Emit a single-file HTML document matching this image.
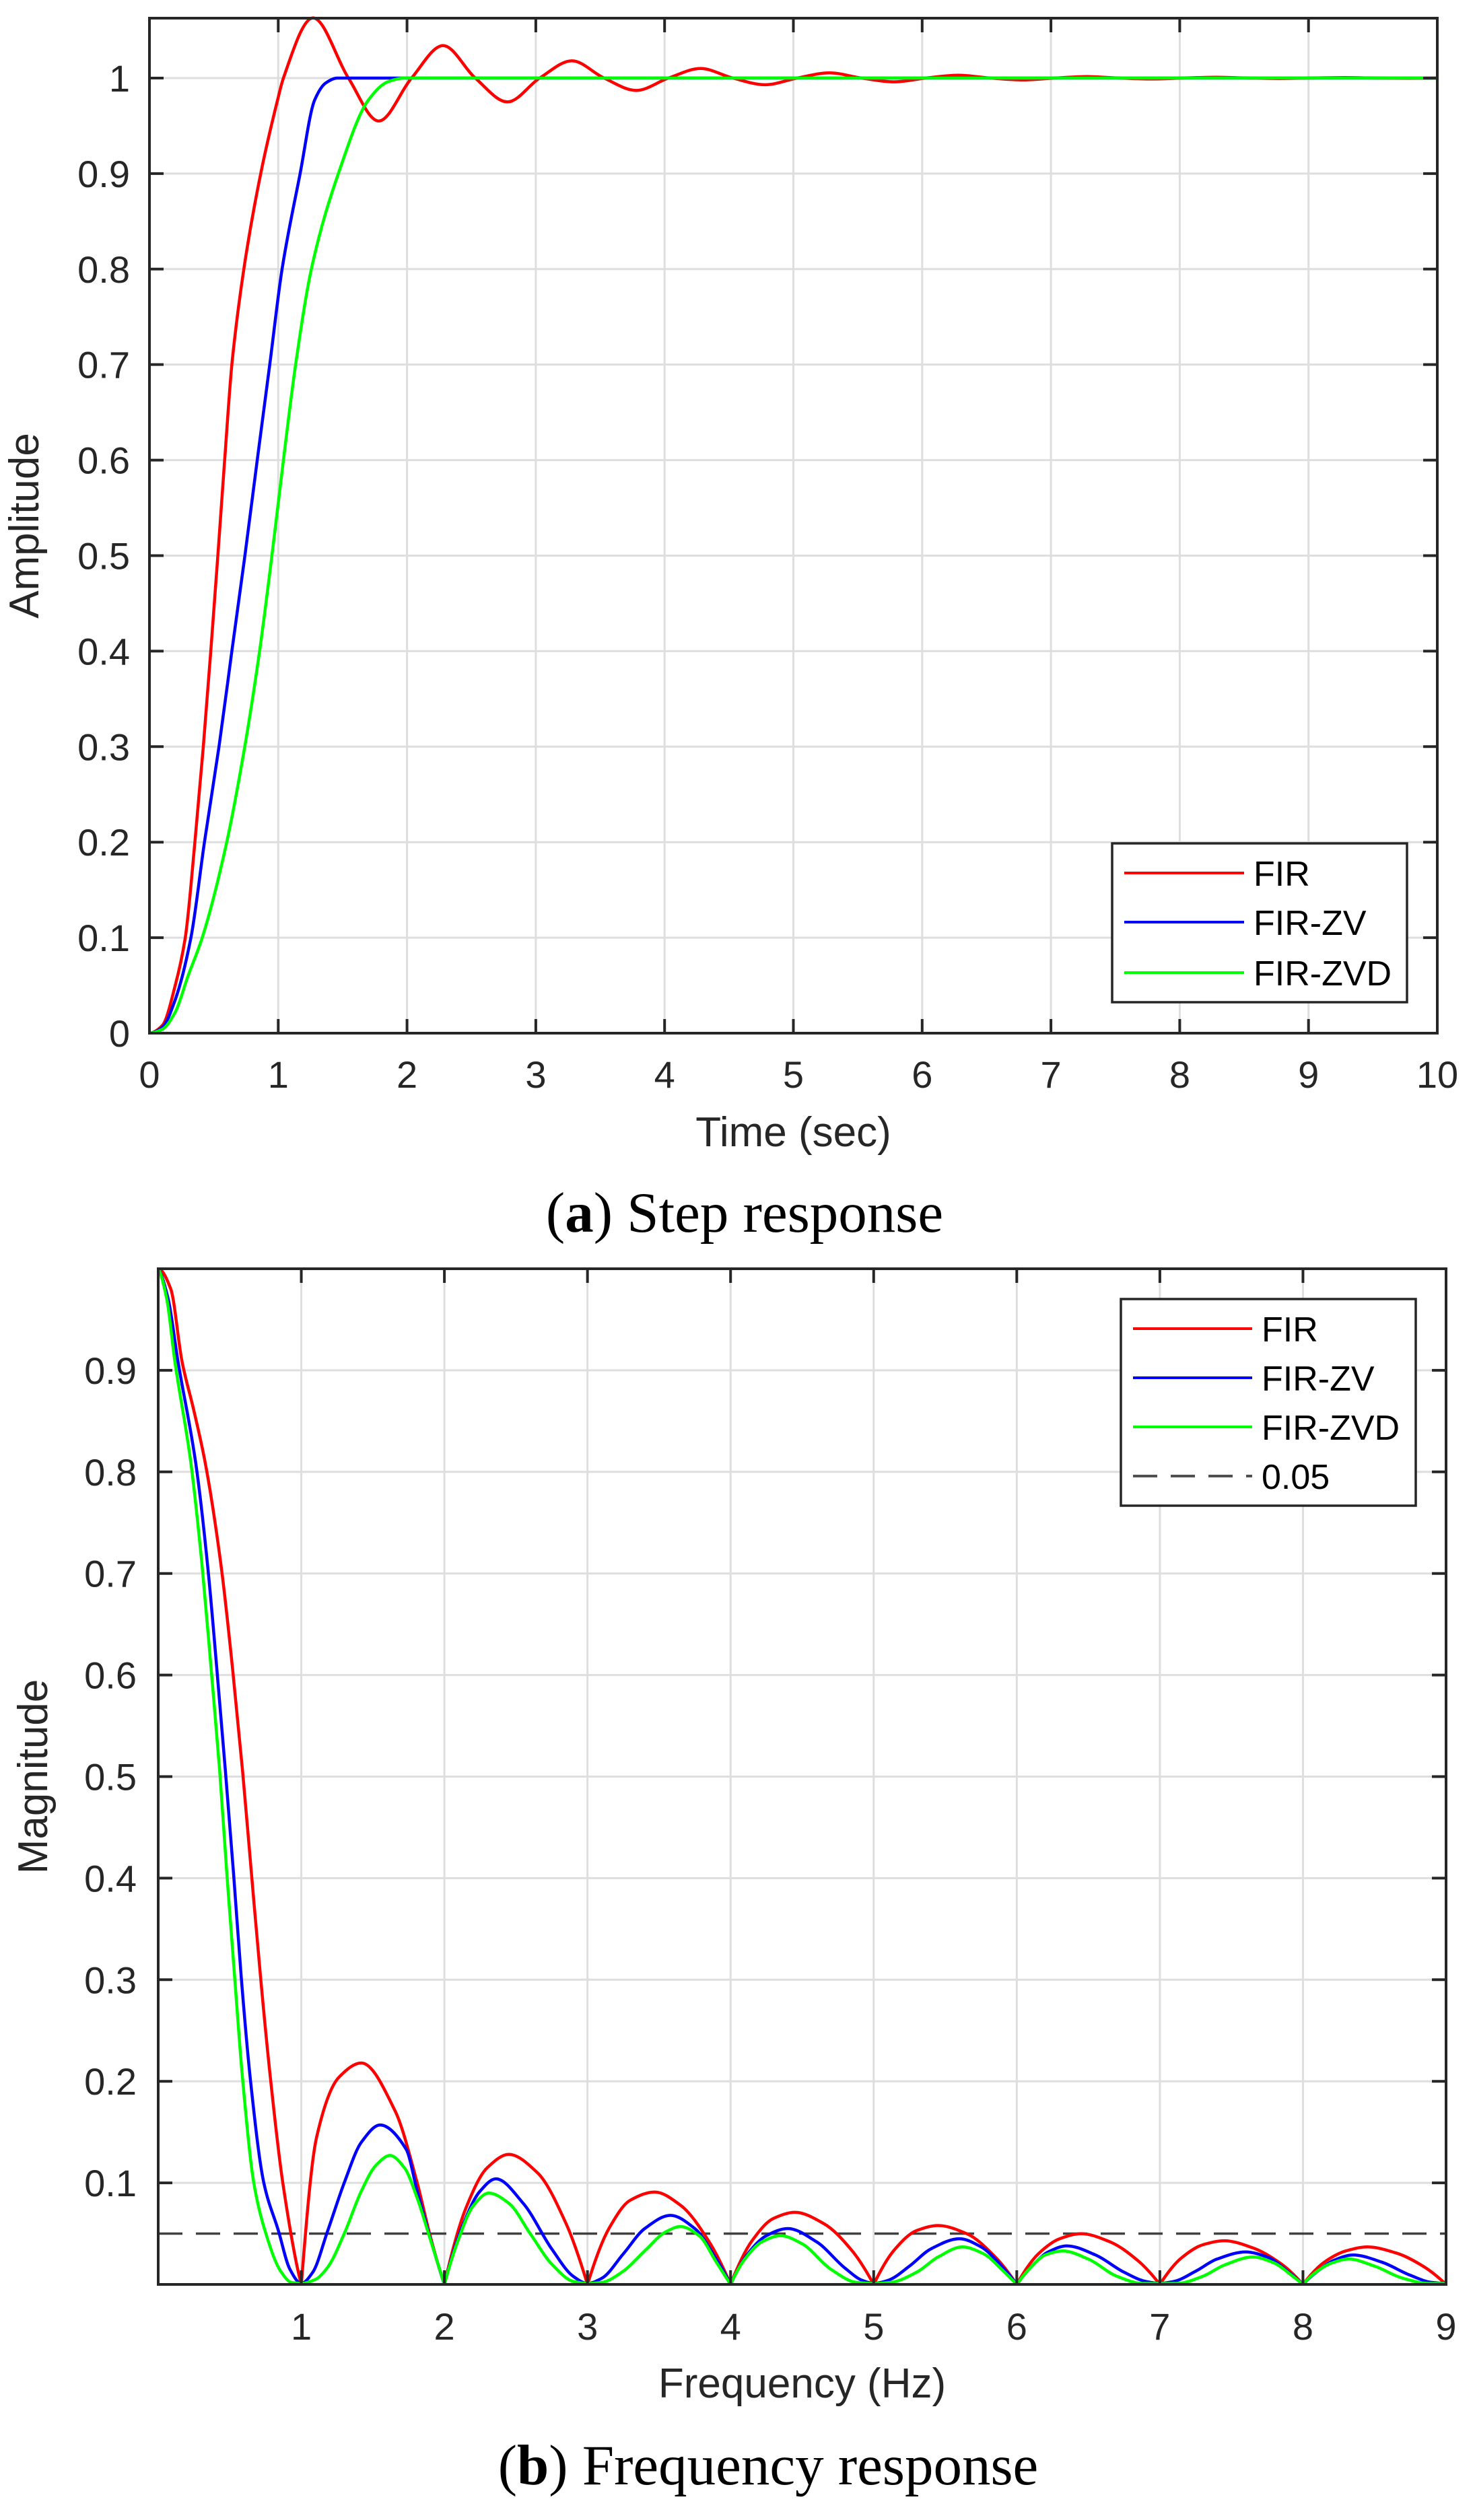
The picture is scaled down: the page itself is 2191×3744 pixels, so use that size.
<!DOCTYPE html>
<html><head><meta charset="utf-8"><style>
html,body{margin:0;padding:0;background:#fff;}
svg{display:block;}
text{font-family:"Liberation Sans",Arial,sans-serif;}
</style></head>
<body>
<svg id="fig" width="2191" height="3744" viewBox="0 0 2191 3744" xmlns="http://www.w3.org/2000/svg">
<rect width="2191" height="3744" fill="#fff"/>
<g id="plotA"></g>
<g id="plotB"></g>
<text x="1106" y="1830" text-anchor="middle" font-size="85" style="font-family:'Liberation Serif',serif" fill="#000">(<tspan font-weight="bold">a</tspan>) Step response</text>
<text x="1141" y="3691" text-anchor="middle" font-size="85" style="font-family:'Liberation Serif',serif" fill="#000">(<tspan font-weight="bold">b</tspan>) Frequency response</text>
</svg>
<script>
// ---- Step response data (a) ----
const stepXTicks = [0,1,2,3,4,5,6,7,8,9,10];
const stepYTicks = [0,0.1,0.2,0.3,0.4,0.5,0.6,0.7,0.8,0.9,1];
const stepYTickLabels = ["0","0.1","0.2","0.3","0.4","0.5","0.6","0.7","0.8","0.9","1"];
const firT = [0,0.1,0.2,0.278,0.353,0.418,0.476,0.531,0.584,0.64,0.733,0.864,0.995,1.04,1.27,1.545,1.78,2.035,2.28,2.53,2.78,3.03,3.28,3.53,3.78,4.03,4.28,4.53,4.78,5.03,5.28,5.53,5.78,6.03,6.28,6.53,6.78,7.03,7.28,7.53,7.78,8.03,8.28,8.53,8.78,9.03,9.28,9.53,9.78,10];
const firV = [0,0.008,0.05,0.1,0.2,0.3,0.4,0.5,0.6,0.7,0.8,0.9,0.977,1.0,1.063,1.0,0.955,1.0,1.034,1.0,0.975,1.0,1.018,1.0,0.987,1.0,1.010,1.0,0.993,1.0,1.0055,1.0,0.996,1.0,1.003,1.0,0.998,1.0,1.0016,1.0,0.999,1.0,1.0009,1.0,0.9995,1.0,1.0005,1.0,0.9997,1.0];
const zvT = [0,0.1,0.2,0.322,0.427,0.54,0.64,0.741,0.837,0.934,1.03,1.17,1.283,1.37,1.458,1.6,10];
const zvV = [0,0.006,0.035,0.1,0.2,0.3,0.4,0.5,0.6,0.7,0.8,0.9,0.977,0.995,1.0,1.0,1.0];
const zvdT = [0,0.1,0.2,0.3,0.41,0.6,0.74,0.855,0.951,1.04,1.135,1.257,1.467,1.70,1.85,1.98,2.2,10];
const zvdV = [0,0.004,0.022,0.06,0.1,0.2,0.3,0.4,0.5,0.6,0.7,0.8,0.9,0.977,0.996,1.0,1.0,1.0];

// ---- Frequency response data (b) ----
const freqXTicks = [1,2,3,4,5,6,7,8,9];
const freqYTicks = [0.1,0.2,0.3,0.4,0.5,0.6,0.7,0.8,0.9];
const freqYTickLabels = ["0.1","0.2","0.3","0.4","0.5","0.6","0.7","0.8","0.9"];
const thresholdValue = 0.05;
const firF = [0,0.088,0.166,0.25,0.33,0.44,0.52,0.59,0.652,0.715,0.785,0.871,1,
 1.107,1.263,1.42,1.655,1.81,1.9,2,
 2.15,2.3,2.45,2.65,2.85,3,
 3.15,3.3,3.47,3.65,3.85,4,
 4.15,4.3,4.45,4.65,4.85,5,
 5.15,5.3,5.45,5.65,5.85,6,
 6.15,6.3,6.45,6.65,6.85,7,
 7.15,7.3,7.45,7.65,7.85,8,
 8.15,8.3,8.45,8.65,8.85,9];
const firM = [1,0.98,0.909,0.86,0.808,0.707,0.606,0.505,0.404,0.303,0.202,0.1,0,
 0.145,0.204,0.218,0.171,0.1,0.048,0,
 0.075,0.115,0.128,0.11,0.06,0,
 0.055,0.083,0.091,0.078,0.042,0,
 0.043,0.065,0.071,0.06,0.033,0,
 0.035,0.053,0.058,0.05,0.027,0,
 0.03,0.045,0.05,0.042,0.023,0,
 0.026,0.039,0.043,0.036,0.02,0,
 0.022,0.033,0.037,0.031,0.017,0];
const zvF = [0,0.07,0.138,0.263,0.346,0.41,0.47,0.527,0.58,0.644,0.738,0.84,0.92,1,
 1.08,1.185,1.3,1.42,1.55,1.733,1.81,1.9,2,
 2.12,2.25,2.36,2.55,2.75,2.9,3,
 3.1,3.25,3.4,3.58,3.75,3.9,4,
 4.12,4.25,4.4,4.6,4.8,4.92,5,
 5.1,5.25,5.4,5.6,5.75,5.9,6,
 6.12,6.22,6.35,6.55,6.75,6.9,7,
 7.1,7.25,7.4,7.6,7.75,7.9,8,
 8.12,8.22,8.35,8.55,8.75,8.9,9];
const zvM = [1,0.97,0.909,0.808,0.707,0.606,0.505,0.404,0.303,0.202,0.1,0.053,0.015,0.001,
 0.012,0.053,0.1,0.14,0.157,0.133,0.092,0.046,0,
 0.055,0.092,0.104,0.08,0.035,0.008,0.001,
 0.006,0.03,0.055,0.068,0.055,0.025,0,
 0.03,0.048,0.055,0.042,0.016,0.004,0.001,
 0.004,0.018,0.035,0.045,0.037,0.017,0,
 0.02,0.032,0.038,0.029,0.012,0.003,0.001,
 0.003,0.013,0.025,0.032,0.027,0.012,0,
 0.015,0.024,0.029,0.022,0.009,0.002,0.001];
const zvdF = [0,0.06,0.116,0.229,0.307,0.37,0.43,0.48,0.534,0.59,0.668,0.746,0.856,0.93,1,
 1.1,1.185,1.3,1.42,1.52,1.62,1.72,1.81,1.9,2,
 2.1,2.2,2.31,2.45,2.6,2.75,2.9,3,
 3.1,3.25,3.4,3.55,3.65,3.78,3.9,4,
 4.1,4.22,4.35,4.5,4.7,4.88,5,
 5.12,5.3,5.45,5.62,5.77,5.9,6,
 6.1,6.2,6.32,6.5,6.7,6.88,7,
 7.12,7.3,7.45,7.65,7.8,7.92,8,
 8.1,8.2,8.32,8.5,8.7,8.88,9];
const zvdM = [1,0.97,0.909,0.808,0.707,0.606,0.505,0.404,0.303,0.202,0.1,0.053,0.013,0.002,0.001,
 0.005,0.017,0.05,0.092,0.117,0.127,0.115,0.085,0.045,0,
 0.045,0.077,0.09,0.08,0.05,0.02,0.003,0.001,
 0.002,0.013,0.033,0.052,0.057,0.048,0.022,0,
 0.025,0.042,0.048,0.04,0.015,0.002,0.001,
 0.002,0.012,0.027,0.037,0.03,0.014,0,
 0.017,0.029,0.033,0.025,0.008,0.001,0.001,
 0.001,0.008,0.019,0.027,0.021,0.009,0,
 0.013,0.021,0.025,0.018,0.006,0.001,0.001];

const NS = "http://www.w3.org/2000/svg";
function mk(tag, attrs, parent){
  const e = document.createElementNS(NS, tag);
  for (const k in attrs) e.setAttribute(k, attrs[k]);
  parent.appendChild(e);
  return e;
}
// Monotone cubic (Fritsch-Carlson) path; segments split at exact zeros (sharp V)
function monoSeg(s){
  const n = s.length;
  if (n < 2) return "";
  let d = "M"+s[0].x.toFixed(1)+","+s[0].y.toFixed(1);
  if (n === 2) return d + "L"+s[1].x.toFixed(1)+","+s[1].y.toFixed(1);
  const h = [], del = [];
  for (let i=0;i<n-1;i++){ h.push(s[i+1].x-s[i].x); del.push((s[i+1].y-s[i].y)/h[i]); }
  const m = new Array(n);
  for (let i=1;i<n-1;i++){
    if (del[i-1]*del[i] <= 0) m[i] = 0;
    else {
      const w1 = 2*h[i]+h[i-1], w2 = h[i]+2*h[i-1];
      m[i] = (w1+w2)/(w1/del[i-1]+w2/del[i]);
    }
  }
  function endSlope(h0,h1,d0,d1){
    let t = ((2*h0+h1)*d0 - h0*d1)/(h0+h1);
    if (t*d0 <= 0) t = 0;
    else if (d0*d1 <= 0 && Math.abs(t) > Math.abs(3*d0)) t = 3*d0;
    return t;
  }
  m[0] = endSlope(h[0],h[1],del[0],del[1]);
  m[n-1] = endSlope(h[n-2],h[n-3],del[n-2],del[n-3]);
  for (let i=0;i<n-1;i++){
    const c1x = s[i].x + h[i]/3, c1y = s[i].y + m[i]*h[i]/3;
    const c2x = s[i+1].x - h[i]/3, c2y = s[i+1].y - m[i+1]*h[i]/3;
    d += "C"+c1x.toFixed(1)+","+c1y.toFixed(1)+" "+c2x.toFixed(1)+","+c2y.toFixed(1)+" "+s[i+1].x.toFixed(1)+","+s[i+1].y.toFixed(1);
  }
  return d;
}
function splinePath(pts, breakZero){
  const segs = [];
  let cur = [pts[0]];
  for (let i=1;i<pts.length;i++){
    cur.push(pts[i]);
    if (breakZero && pts[i].v === 0 && i < pts.length-1){ segs.push(cur); cur=[pts[i]]; }
  }
  segs.push(cur);
  return segs.map(monoSeg).join("");
}

function drawAxes(g, cfg){
  const {L,R,T,B,xmin,xmax,ymin,ymax} = cfg;
  const sx = v => L + (v-xmin)/(xmax-xmin)*(R-L);
  const sy = v => B - (v-ymin)/(ymax-ymin)*(B-T);
  const grid = mk('g',{},g);
  
  
  cfg.xticks.forEach(t=>{ mk('line',{x1:sx(t),x2:sx(t),y1:T,y2:B,stroke:'#dedede','stroke-width':3},grid); });
  cfg.yticks.forEach(t=>{ mk('line',{x1:L,x2:R,y1:sy(t),y2:sy(t),stroke:'#dedede','stroke-width':3},grid); });
  return {sx,sy};
}
function drawFrame(g, cfg, sx, sy){
  const {L,R,T,B} = cfg;
  const fr = mk('g',{},g);
  
  
  mk('rect',{x:L,y:T,width:R-L,height:B-T,fill:'none',stroke:'#262626','stroke-width':4},fr);
  const tl = 21;
  cfg.xticks.forEach(t=>{
    mk('line',{x1:sx(t),x2:sx(t),y1:B,y2:B-tl,stroke:'#262626','stroke-width':4},fr);
    mk('line',{x1:sx(t),x2:sx(t),y1:T,y2:T+tl,stroke:'#262626','stroke-width':4},fr);
  });
  cfg.yticks.forEach(t=>{
    mk('line',{x1:L,x2:L+tl,y1:sy(t),y2:sy(t),stroke:'#262626','stroke-width':4},fr);
    mk('line',{x1:R,x2:R-tl,y1:sy(t),y2:sy(t),stroke:'#262626','stroke-width':4},fr);
  });
  const xl = mk('g',{},g);
  
  
  cfg.xticks.forEach(t=>{
    const e = mk('text',{x:sx(t),y:cfg.xLabelY,'text-anchor':'middle','font-size':56,fill:'#262626'},xl);
    e.textContent = String(t);
  });
  const yl = mk('g',{},g);
  
  
  cfg.yticks.forEach((t,i)=>{
    const e = mk('text',{x:cfg.yLabelX,y:sy(t)+20,'text-anchor':'end','font-size':56,fill:'#262626'},yl);
    e.textContent = cfg.yticklabels[i];
  });
  const xt = mk('text',{x:(L+R)/2,y:cfg.xTitleY,'text-anchor':'middle','font-size':62,fill:'#262626'},g);
  
  
  xt.textContent = cfg.xTitle;
  const yc = (T+B)/2;
  const yt = mk('text',{x:cfg.yTitleX,y:yc,'text-anchor':'middle','font-size':62,fill:'#262626',transform:'rotate(-90 '+cfg.yTitleX+' '+yc+')'},g);
  
  
  yt.textContent = cfg.yTitle;
}
function drawSeries(g, xs, ys, sx, sy, color, name, clipId, breakZero){
  const pts = xs.map((x,i)=>({x:sx(x), y:sy(ys[i]), v:ys[i]}));
  const p = mk('path',{d:splinePath(pts, breakZero),fill:'none',stroke:color,'stroke-width':4.5,'stroke-linejoin':'round','clip-path':'url(#'+clipId+')'},g);
  
  
}
function drawLegend(g, box, entries){
  const lg = mk('g',{},g);
  
  
  mk('rect',{x:box.x,y:box.y,width:box.w,height:box.h,fill:'#fff',stroke:'#262626','stroke-width':3.5},lg);
  entries.forEach(en=>{
    const eg = mk('g',{},lg);
    
    
    const ln = mk('line',{x1:box.lx1,x2:box.lx2,y1:en.y,y2:en.y,stroke:en.color,'stroke-width':4},eg);
    if (en.dash) ln.setAttribute('stroke-dasharray', en.dash);
    const t = mk('text',{x:box.tx,y:en.y+19,'font-size':52,fill:'#000'},eg);
    t.textContent = en.label;
  });
}

const svg = document.getElementById('fig');
const defs = mk('defs',{},svg);

// ---- Plot A ----
const cfgA = {L:222,R:2135,T:27,B:1535,xmin:0,xmax:10,ymin:0,ymax:1.0627,
  xticks:stepXTicks,yticks:stepYTicks,yticklabels:stepYTickLabels,
  xLabelY:1616,yLabelX:193,xTitleY:1703,xTitle:'Time (sec)',yTitleX:57,yTitle:'Amplitude'};
const gA = document.getElementById('plotA');
const clipA = mk('clipPath',{id:'clipA'},defs);
mk('rect',{x:cfgA.L,y:cfgA.T-3,width:cfgA.R-cfgA.L,height:cfgA.B-cfgA.T+3},clipA);
const axA = drawAxes(gA,cfgA);
drawSeries(gA, firT, firV, axA.sx, axA.sy, '#ff0000', 'fir-step-line', 'clipA', false);
drawSeries(gA, zvT, zvV, axA.sx, axA.sy, '#0000ff', 'fir-zv-step-line', 'clipA', false);
drawSeries(gA, zvdT, zvdV, axA.sx, axA.sy, '#00ff00', 'fir-zvd-step-line', 'clipA', false);
drawFrame(gA,cfgA,axA.sx,axA.sy);
drawLegend(gA,{x:1652,y:1253,w:438,h:236,lx1:1670,lx2:1848,tx:1862},[
  {key:'fir',label:'FIR',color:'#ff0000',y:1297},
  {key:'fir-zv',label:'FIR-ZV',color:'#0000ff',y:1370},
  {key:'fir-zvd',label:'FIR-ZVD',color:'#00ff00',y:1445}]);

// ---- Plot B ----
const cfgB = {L:235,R:2148,T:1885,B:3394,xmin:0,xmax:9,ymin:0,ymax:1.0,
  xticks:freqXTicks,yticks:freqYTicks,yticklabels:freqYTickLabels,
  xLabelY:3476,yLabelX:203,xTitleY:3562,xTitle:'Frequency (Hz)',yTitleX:70,yTitle:'Magnitude'};
const gB = document.getElementById('plotB');
const clipB = mk('clipPath',{id:'clipB'},defs);
mk('rect',{x:cfgB.L,y:cfgB.T,width:cfgB.R-cfgB.L,height:cfgB.B-cfgB.T+2},clipB);
const axB = drawAxes(gB,cfgB);
const th = mk('line',{x1:cfgB.L,x2:cfgB.R,y1:axB.sy(thresholdValue),y2:axB.sy(thresholdValue),stroke:'#404040','stroke-width':3.5,'stroke-dasharray':'36 20'},gB);


drawSeries(gB, firF, firM, axB.sx, axB.sy, '#ff0000', 'fir-magnitude-line', 'clipB', true);
drawSeries(gB, zvF, zvM, axB.sx, axB.sy, '#0000ff', 'fir-zv-magnitude-line', 'clipB', true);
drawSeries(gB, zvdF, zvdM, axB.sx, axB.sy, '#00ff00', 'fir-zvd-magnitude-line', 'clipB', true);
drawFrame(gB,cfgB,axB.sx,axB.sy);
drawLegend(gB,{x:1665,y:1930,w:438,h:307,lx1:1683,lx2:1860,tx:1874},[
  {key:'fir',label:'FIR',color:'#ff0000',y:1974},
  {key:'fir-zv',label:'FIR-ZV',color:'#0000ff',y:2047},
  {key:'fir-zvd',label:'FIR-ZVD',color:'#00ff00',y:2120},
  {key:'threshold',label:'0.05',color:'#505050',y:2193,dash:'36 20'}]);
</script>
</body></html>
